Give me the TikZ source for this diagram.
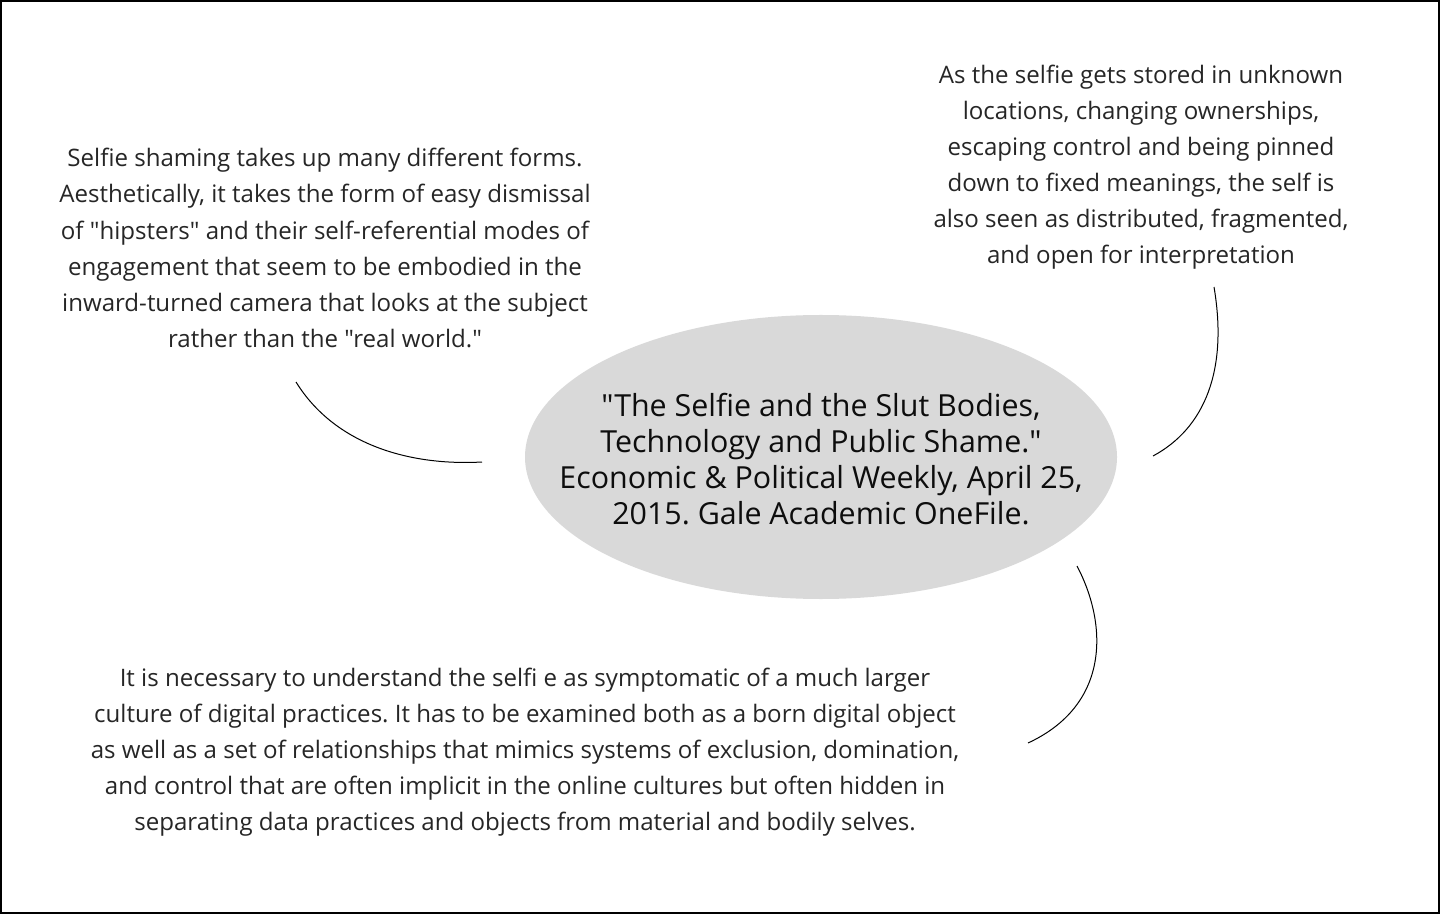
\documentclass[tikz,border=0pt]{standalone}
\usepackage{fontspec}
\setmainfont{Open Sans}[Ligatures=TeXOff]
\usetikzlibrary{shapes.geometric, calc}
\definecolor{notegray}{HTML}{262626}
\definecolor{bubblegray}{HTML}{D9D9D9}
\frenchspacing
\tikzset{note/.style={align=center, inner sep=0pt, text=notegray, font=\fontsize{13.7}{20.5}\selectfont},
	link/.style={line width=0.2mm, black}}

\begin{document}
\begin{tikzpicture}[x=0.2mm, y=-0.2mm]
	\useasboundingbox (0,0) rectangle (1440,914);
	\draw[line width=0.4mm] (1,1) rectangle (1439,913);
	% centre bubble
	\node[ellipse, fill=bubblegray, minimum width=118.4mm, minimum height=56.8mm, inner sep=0pt] (src) at (821,457) {};
	\node[align=center, inner sep=0pt, text=black!95, font=\fontsize{17.3}{20.5}\selectfont] (srctext) at (821,459)
		{"The Selfie and the Slut Bodies,\\ Technology and Public Shame."\\ Economic \& Political Weekly, April 25,\\ 2015. Gale Academic OneFile.};
	% notes
	\node[note] (shaming) at (325,248) {Selfie shaming takes up many different forms.\\ Aesthetically, it takes the form of easy dismissal\\ of "hipsters" and their self-referential modes of\\ engagement that seem to be embodied in the\\ inward-turned camera that looks at the subject\\ rather than the "real world."};
	\node[note] (stored) at (1141,167) {As the selfie gets stored in unknown\\ locations, changing ownerships,\\ escaping control and being pinned\\ down to fixed meanings, the self is\\ also seen as distributed, fragmented,\\ and open for interpretation};
	\node[note] (digital) at (525,752) {It is necessary to understand the selfi e as symptomatic of a much larger\\ culture of digital practices. It has to be examined both as a born digital object\\ as well as a set of relationships that mimics systems of exclusion, domination,\\ and control that are often implicit in the online cultures but often hidden in\\ separating data practices and objects from material and bodily selves.};
	% connector ends
	\coordinate (a1) at (296,382);
	\coordinate (a2) at (482,462);
	\coordinate (b1) at (1214,287);
	\coordinate (b2) at (1153,456);
	\coordinate (c1) at (1077,566);
	\coordinate (c2) at (1028,743);
	\draw[link] (a1) .. controls (335,445) and (410,466) .. (a2);
	\draw[link] (b1) .. controls (1228,370) and (1205,428) .. (b2);
	\draw[link] (c1) .. controls (1108,625) and (1110,705) .. (c2);
\end{tikzpicture}
\end{document}
